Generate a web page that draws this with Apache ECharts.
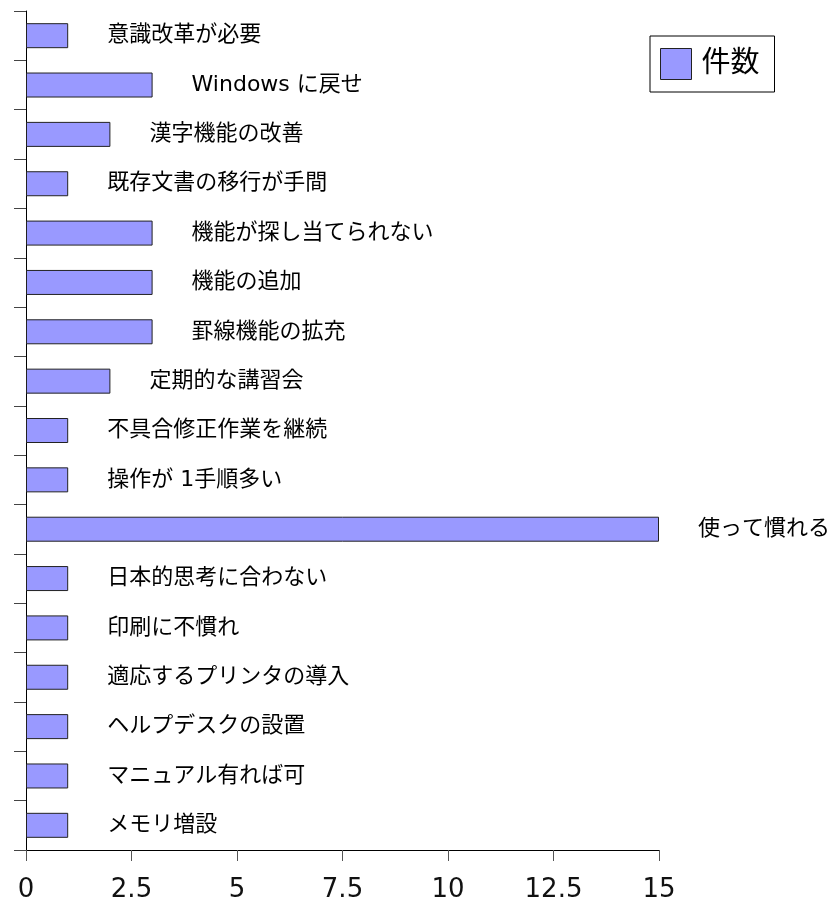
<!DOCTYPE html>
<html>
<head>
<meta charset="utf-8">
<style>
  html, body { margin: 0; padding: 0; background: #fff; }
  #chart { width: 830px; height: 900px; }
</style>
<script src="https://cdn.jsdelivr.net/npm/echarts@6/dist/echarts.min.js"></script>
</head>
<body>
<div id="chart"></div>
<script>
var categories = ['意識改革が必要', 'Windows に戻せ', '漢字機能の改善', '既存文書の移行が手間',
  '機能が探し当てられない', '機能の追加', '罫線機能の拡充', '定期的な講習会',
  '不具合修正作業を継続', '操作が 1手順多い', '使って慣れる', '日本的思考に合わない',
  '印刷に不慣れ', '適応するプリンタの導入', 'ヘルプデスクの設置', 'マニュアル有れば可', 'メモリ増設'];
var counts = [1, 3, 2, 1, 3, 3, 3, 2, 1, 1, 15, 1, 1, 1, 1, 1, 1];
var xTicks = ['0', '2.5', '5', '7.5', '10', '12.5', '15'];

var fontJa = '"DejaVu Sans", "Noto Sans CJK JP", sans-serif';

var chart = echarts.init(document.getElementById('chart'));

var option = {
  animation: false,
  textStyle: { fontFamily: fontJa },
  grid: { left: 26, right: 171, top: 11, bottom: 50, outerBoundsMode: 'none', containLabel: false },
  legend: {
    data: ['件数'],
    left: 650,
    top: 36,
    orient: 'vertical',
    itemWidth: 31,
    itemHeight: 31,
    padding: [12, 15, 12, 10],
    borderColor: '#000',
    borderWidth: 1,
    icon: 'rect',
    itemStyle: { borderWidth: 1, borderColor: '#222' },
    textStyle: { fontSize: 29, color: '#000', fontFamily: fontJa, padding: [0, 0, 0, 5] }
  },
  xAxis: {
    type: 'value',
    min: 0,
    max: 15,
    interval: 2.5,
    splitLine: { show: false },
    axisLine: { show: true, lineStyle: { color: '#000', width: 1 } },
    axisTick: { show: true, length: 11, lineStyle: { color: '#555' } },
    axisLabel: {
      fontSize: 26, color: '#111', margin: 27,
      fontFamily: '"DejaVu Sans", sans-serif',
      formatter: function (v) { return xTicks[Math.round(v / 2.5)]; }
    }
  },
  yAxis: {
    type: 'category',
    data: categories,
    inverse: true,
    axisLine: { show: true, lineStyle: { color: '#000', width: 1 } },
    axisTick: { show: true, length: 12, lineStyle: { color: '#444' } },
    axisLabel: { show: false }
  },
  series: [
    {
      name: '件数',
      type: 'bar',
      data: counts,
      barWidth: 25,
      itemStyle: { color: '#9999ff', borderColor: '#222', borderWidth: 1 },
      label: {
        show: true,
        position: 'right',
        distance: 39,
        formatter: '{b}',
        fontSize: 22,
        color: '#000',
        fontFamily: fontJa
      }
    }
  ]
};

chart.setOption(option);
</script>
</body>
</html>
